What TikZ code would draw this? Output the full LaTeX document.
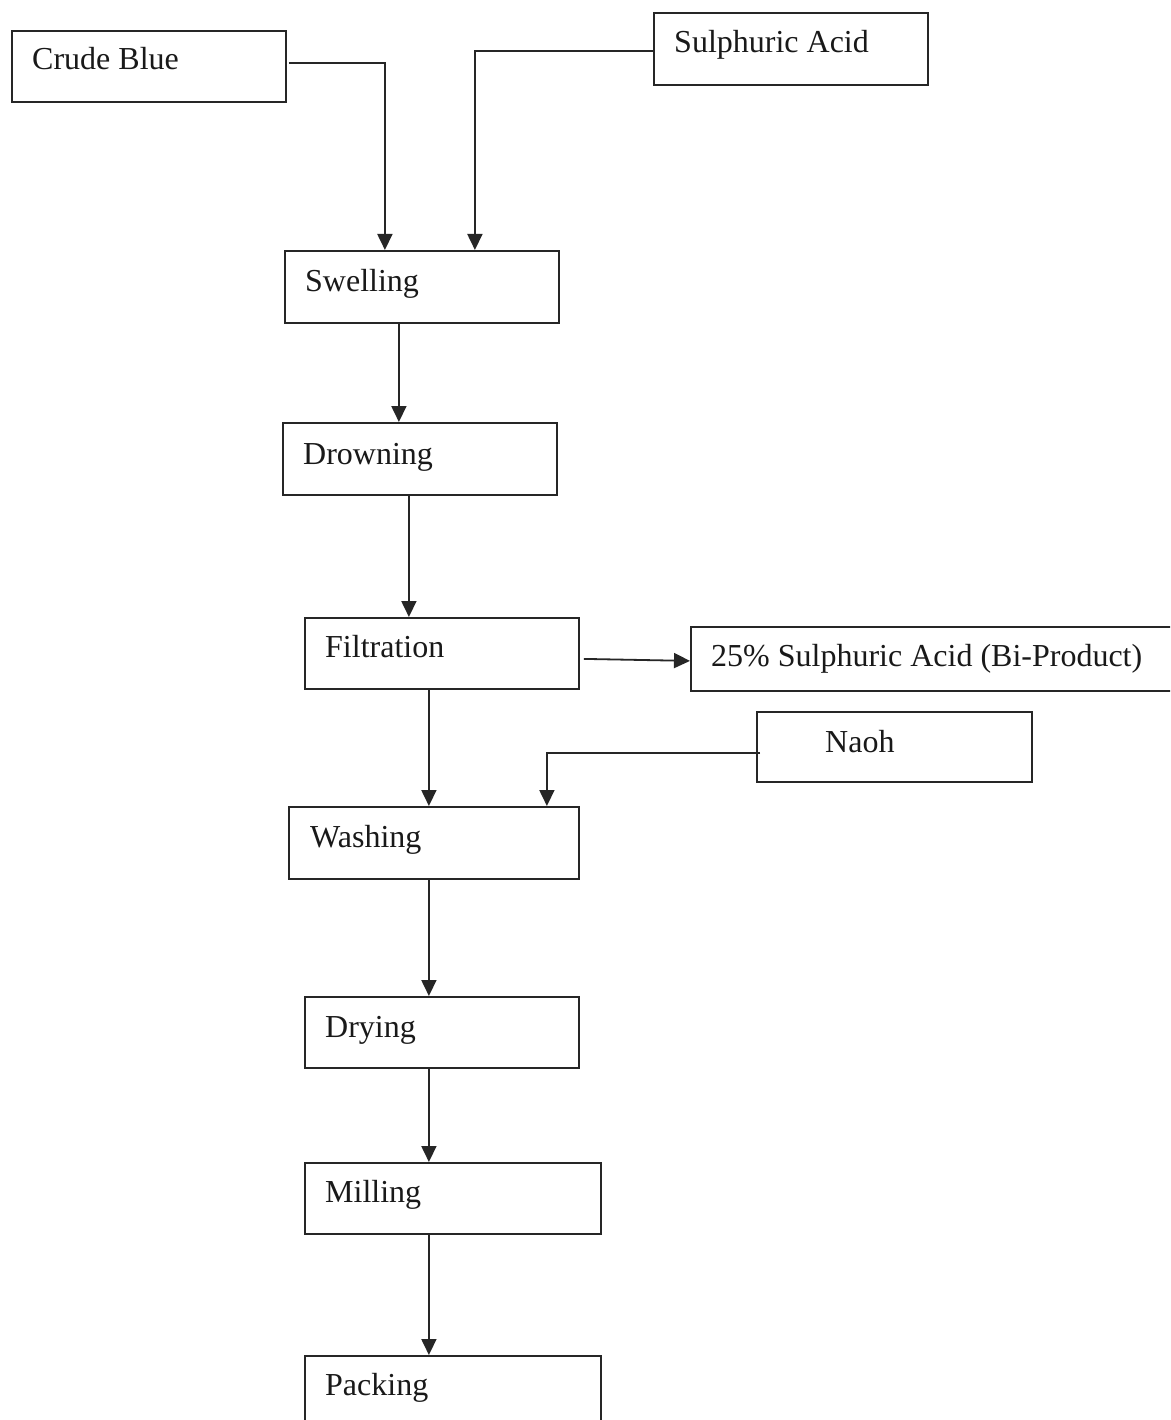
\documentclass[tikz,border=0pt]{standalone}
\usepackage{fontspec}
\setmainfont{Liberation Serif}
\usetikzlibrary{arrows.meta}
\begin{document}
\begin{tikzpicture}[x=1pt,y=-1pt,
  box/.style={draw=black!85,line width=1.8pt,rectangle,inner sep=0pt,anchor=north west},
  lbl/.style={anchor=base west,inner sep=0pt,text=black!90,font=\fontsize{32}{38}\selectfont},
  arr/.style={draw=black!85,line width=1.8pt,-{Triangle[length=16pt,width=15pt]}},
  lnk/.style={draw=black!85,line width=1.8pt}]
\clip (0,0) rectangle (1170,1420);
\fill[white] (0,0) rectangle (1170,1420);
% boxes
\node[box,minimum width=274pt,minimum height=71pt] (crude) at (11,30) {};
\node[box,minimum width=274pt,minimum height=72pt] (sulph) at (653,12) {};
\node[box,minimum width=274pt,minimum height=72pt] (swell) at (284,250) {};
\node[box,minimum width=274pt,minimum height=72pt] (drown) at (282,422) {};
\node[box,minimum width=274pt,minimum height=71pt] (filt) at (304,617) {};
\node[box,minimum width=490pt,minimum height=64pt] (bip) at (690,626) {};
\node[box,minimum width=275pt,minimum height=70pt] (naoh) at (756,711) {};
\node[box,minimum width=290pt,minimum height=72pt] (wash) at (288,806) {};
\node[box,minimum width=274pt,minimum height=71pt] (dry) at (304,996) {};
\node[box,minimum width=296pt,minimum height=71pt] (mill) at (304,1162) {};
\node[box,minimum width=296pt,minimum height=90pt] (pack) at (304,1355) {};
% labels
\node[lbl] (crudet) at (32,70) {Crude Blue};
\node[lbl] (sulpht) at (674,53) {Sulphuric Acid};
\node[lbl] (swellt) at (305,292) {Swelling};
\node[lbl] (drownt) at (303,464) {Drowning};
\node[lbl] (filtt) at (325,657) {Filtration};
\node[lbl] (bipt) at (711,666) {25\% Sulphuric Acid (Bi-Product)};
\node[lbl] (naoht) at (825,752) {Naoh};
\node[lbl] (washt) at (310,847) {Washing};
\node[lbl] (dryt) at (325,1037) {Drying};
\node[lbl] (millt) at (325,1202) {Milling};
\node[lbl] (packt) at (325,1395) {Packing};
% connectors
\draw[arr] ([xshift=2pt,yshift=3.5pt]crude.east) -| ([xshift=-37pt]swell.north);
\draw[arr] ([yshift=-2pt]sulph.west) -| ([xshift=53pt]swell.north);
\draw[arr] ([xshift=-23pt]swell.south) -- ([xshift=-23pt]swell.south |- drown.north);
\draw[arr] ([xshift=-11pt]drown.south) -- ([xshift=-11pt]drown.south |- filt.north);
\draw[arr] ([xshift=4pt,yshift=-5.5pt]filt.east) -- ([yshift=-2pt]bip.west);
\draw[arr] ([xshift=-13pt]filt.south) -- ([xshift=-13pt]filt.south |- wash.north);
\draw[arr] ([xshift=4pt,yshift=-6pt]naoh.west) -| ([xshift=113pt]wash.north);
\draw[arr] ([xshift=-5pt]wash.south) -- ([xshift=-5pt]wash.south |- dry.north);
\draw[arr] ([xshift=-13pt]dry.south) -- ([xshift=-13pt]dry.south |- mill.north);
\draw[arr] ([xshift=-24pt]mill.south) -- ([xshift=-24pt]mill.south |- pack.north);
\end{tikzpicture}
\end{document}
